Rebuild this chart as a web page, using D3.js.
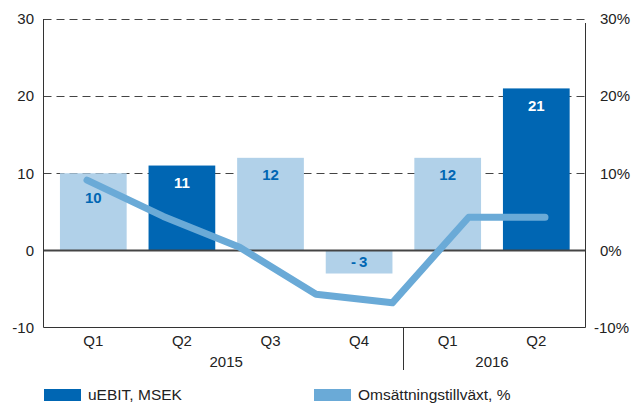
<!DOCTYPE html>
<meta charset="utf-8">
<style>
body { margin: 0; background: #fff; }
text { font-family: "Liberation Sans", Arial, sans-serif; fill: #222; }
</style>
<body>
<svg width="633" height="403"></svg>
<script src="https://d3js.org/d3.v7.min.js"></script>
<script>

// uEBIT per quarter
var quarters = ["Q1 2015", "Q2 2015", "Q3 2015", "Q4 2015", "Q1 2016", "Q2 2016"];
var quarterLabels = ["Q1", "Q2", "Q3", "Q4", "Q1", "Q2"];
var uebit = [10, 11, 12, -3, 12, 21];
var highlighted = [false, true, false, false, false, true];

// growth line (7 points, not aligned to the bars in the original)
var growthKeys = ["p1", "p2", "p3", "p4", "p5", "p6", "p7"];
var growth = [9.1, 4.4, 0.4, -5.7, -6.8, 4.3, 4.3];

var years = [
  {label: "2015", from: "Q1 2015", to: "Q4 2015"},
  {label: "2016", from: "Q1 2016", to: "Q2 2016"}
];

var leftTicks = [-10, 0, 10, 20, 30];
var gridTicks = [10, 20, 30];

var dark = "#0066b3",
    light = "#b1d1e9",
    lineColor = "#6aaad7";

var svg = d3.select("svg");

var plotLeft = 43.5, plotRight = 585.5, plotTop = 19, plotBottom = 327.5;

var y = d3.scaleLinear().domain([-10, 30]).range([plotBottom, plotTop]);
var x = d3.scaleBand().domain(quarters).range([49, 580.6])
    .paddingInner(0.247).paddingOuter(0.1235);
var xl = d3.scalePoint().domain(growthKeys).range([87, 545]);

// dashed gridlines
svg.append("g").selectAll("line")
  .data(gridTicks)
  .enter().append("line")
    .attr("x1", plotLeft).attr("x2", plotRight)
    .attr("y1", function(d) { return Math.round(y(d)) + 0.5; })
    .attr("y2", function(d) { return Math.round(y(d)) + 0.5; })
    .attr("stroke", "#444")
    .attr("stroke-width", 1)
    .attr("stroke-dasharray", "8,5");

// bars
svg.append("g").selectAll("rect")
  .data(uebit)
  .enter().append("rect")
    .attr("x", function(d, i) { return x(quarters[i]); })
    .attr("width", x.bandwidth())
    .attr("y", function(d) { return y(Math.max(0, d)); })
    .attr("height", function(d) { return Math.abs(y(d) - y(0)); })
    .attr("fill", function(d, i) { return highlighted[i] ? dark : light; });

// zero line
svg.append("line")
    .attr("x1", plotLeft).attr("x2", plotRight)
    .attr("y1", y(0)).attr("y2", y(0))
    .attr("stroke", "#444").attr("stroke-width", 2);

// axes frame
svg.append("line").attr("x1", plotLeft).attr("x2", plotLeft).attr("y1", plotTop).attr("y2", plotBottom)
    .attr("stroke", "#333");
svg.append("line").attr("x1", plotRight).attr("x2", plotRight).attr("y1", plotTop + 4).attr("y2", plotBottom)
    .attr("stroke", "#333");
svg.append("line").attr("x1", plotLeft).attr("x2", plotRight).attr("y1", plotBottom).attr("y2", plotBottom)
    .attr("stroke", "#333");

// bar value labels
svg.append("g").selectAll("text")
  .data(uebit)
  .enter().append("text")
    .attr("x", function(d, i) { return x(quarters[i]) + x.bandwidth() / 2; })
    .attr("y", function(d, i) {
      if (d < 0) return (y(0) + y(d)) / 2;
      return y(d) + (i == 0 ? 24 : 17);
    })
    .attr("dy", "0.35em")
    .attr("text-anchor", "middle")
    .style("font-size", "15px")
    .style("font-weight", "bold")
    .style("fill", function(d, i) { return highlighted[i] ? "#fff" : dark; })
    .text(function(d) { return d < 0 ? "-\u2009" + Math.abs(d) : d; });

// growth line
var line = d3.line()
    .x(function(d, i) { return xl(growthKeys[i]); })
    .y(function(d) { return y(d); });

svg.append("path")
    .datum(growth)
    .attr("d", line)
    .attr("fill", "none")
    .attr("stroke", lineColor)
    .attr("stroke-width", 7)
    .attr("stroke-linecap", "round")
    .attr("stroke-linejoin", "round");

// left axis labels
svg.append("g").selectAll("text")
  .data(leftTicks)
  .enter().append("text")
    .attr("x", 34)
    .attr("y", function(d) { return y(d); })
    .attr("dy", "0.35em")
    .attr("text-anchor", "end")
    .style("font-size", "15px")
    .text(function(d) { return d; });

// right axis labels (same scale, in %)
svg.append("g").selectAll("text")
  .data(leftTicks)
  .enter().append("text")
    .attr("x", function(d) { return d < 0 ? 594 : 600; })
    .attr("y", function(d) { return y(d); })
    .attr("dy", "0.35em")
    .attr("text-anchor", "start")
    .style("font-size", "15px")
    .text(function(d) { return d + "%"; });

// quarter labels
svg.append("g").selectAll("text")
  .data(quarters)
  .enter().append("text")
    .attr("x", function(d) { return x(d) + x.bandwidth() / 2; })
    .attr("y", 341)
    .attr("dy", "0.35em")
    .attr("text-anchor", "middle")
    .style("font-size", "15px")
    .text(function(d, i) { return quarterLabels[i]; });

// year labels
svg.append("g").selectAll("text")
  .data(years)
  .enter().append("text")
    .attr("x", function(d) { return (x(d.from) + x(d.to) + x.bandwidth()) / 2; })
    .attr("y", 362)
    .attr("dy", "0.35em")
    .attr("text-anchor", "middle")
    .style("font-size", "15px")
    .text(function(d) { return d.label; });

// separator between years
var sepX = Math.round((x("Q4 2015") + x.bandwidth() + x("Q1 2016")) / 2) + 0.5;
svg.append("line")
    .attr("x1", sepX).attr("x2", sepX)
    .attr("y1", plotBottom).attr("y2", 370)
    .attr("stroke", "#333");

// legend
var legend = [
  {label: "uEBIT, MSEK", color: dark, x: 44},
  {label: "Omsättningstillväxt, %", color: lineColor, x: 314}
];
var lg = svg.append("g").selectAll("g")
  .data(legend)
  .enter().append("g")
    .attr("transform", function(d) { return "translate(" + d.x + ",389)"; });
lg.append("rect")
    .attr("width", 37).attr("height", 12)
    .attr("fill", function(d) { return d.color; });
lg.append("text")
    .attr("x", 44).attr("y", 6)
    .attr("dy", "0.35em")
    .style("font-size", "15.5px")
    .text(function(d) { return d.label; });

</script>
</body>
